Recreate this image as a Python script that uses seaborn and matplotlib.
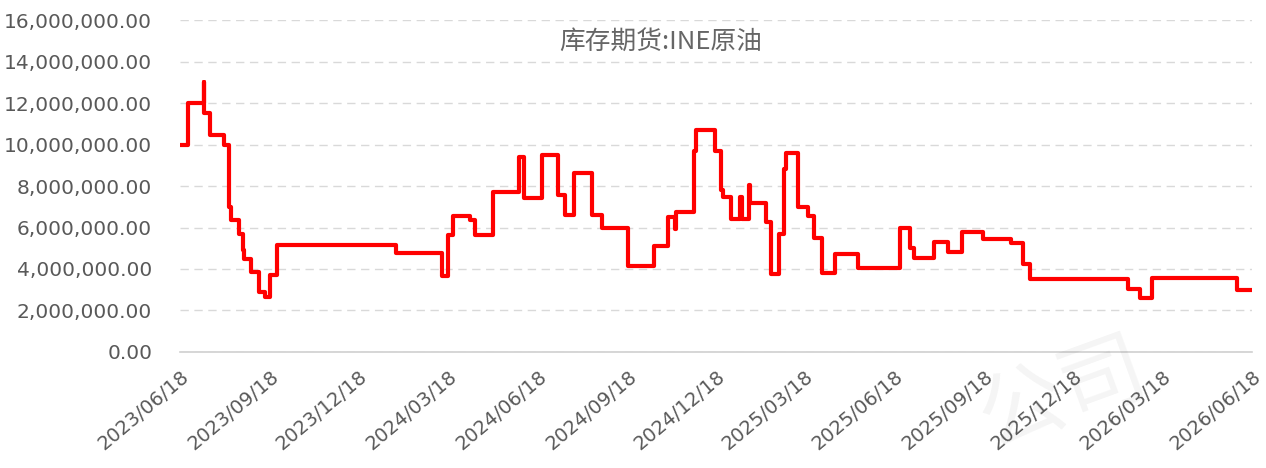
import matplotlib
matplotlib.use("Agg")
import matplotlib.pyplot as plt
import matplotlib.dates as mdates
import matplotlib.ticker as mticker
import seaborn as sns
import pandas as pd

# ---- data (change points of the step series) ----
dates = [
    "2023-06-18", "2023-06-26", "2023-07-12", "2023-07-13", "2023-07-19", "2023-08-02",
    "2023-08-07", "2023-08-09", "2023-08-17", "2023-08-21", "2023-08-22", "2023-08-30",
    "2023-09-07", "2023-09-13", "2023-09-18", "2023-09-25", "2024-01-25", "2024-03-12",
    "2024-03-18", "2024-03-23", "2024-04-09", "2024-04-15", "2024-05-03", "2024-05-30",
    "2024-06-04", "2024-06-22", "2024-07-08", "2024-07-16", "2024-07-25", "2024-08-12",
    "2024-08-22", "2024-09-18", "2024-10-15", "2024-10-29", "2024-11-05", "2024-11-06",
    "2024-11-24", "2024-11-27", "2024-12-16", "2024-12-22", "2024-12-24", "2025-01-01",
    "2025-01-10", "2025-01-13", "2025-01-20", "2025-01-21", "2025-02-06", "2025-02-11",
    "2025-02-19", "2025-02-24", "2025-02-27", "2025-03-11", "2025-03-21", "2025-03-27",
    "2025-04-04", "2025-04-18", "2025-05-11", "2025-06-23", "2025-07-03", "2025-07-07",
    "2025-07-28", "2025-08-11", "2025-08-25", "2025-09-16", "2025-10-15", "2025-10-27",
    "2025-11-03", "2026-02-11", "2026-02-23", "2026-03-08", "2026-06-03", "2026-06-18",
]
values = [
    10.0, 12.0, 13.0, 11.5, 10.45, 10.0,
    7.0, 6.35, 5.7, 4.9, 4.5, 3.85,
    2.9, 2.65, 3.7, 5.15, 4.75, 3.65,
    5.65, 6.55, 6.35, 5.65, 7.7, 9.4,
    7.4, 9.5, 7.55, 6.6, 8.65, 6.6,
    6.0, 4.15, 5.1, 6.5, 5.95, 6.75,
    9.7, 10.7, 9.7, 7.8, 7.45, 6.4,
    7.45, 6.4, 8.05, 7.2, 6.25, 3.75,
    5.7, 8.8, 9.6, 7.0, 6.55, 5.5,
    3.8, 4.7, 4.05, 6.0, 5.0, 4.55,
    5.3, 4.8, 5.8, 5.45, 5.25, 4.25,
    3.5, 3.05, 2.6, 3.55, 3.0, 3.0,
]
values = [v * 1_000_000 for v in values]
title = "库存期货:INE原油"
tick_dates = ["2023-06-18", "2023-09-18", "2023-12-18", "2024-03-18", "2024-06-18",
              "2024-09-18", "2024-12-18", "2025-03-18", "2025-06-18", "2025-09-18",
              "2025-12-18", "2026-03-18", "2026-06-18"]
y_ticks = [0, 2e6, 4e6, 6e6, 8e6, 10e6, 12e6, 14e6, 16e6]

df = pd.DataFrame({"date": pd.to_datetime(dates), "value": values})

sns.set_theme(style="white")
plt.rcParams["font.family"] = ["DejaVu Sans", "Noto Sans CJK SC"]

fig = plt.figure(figsize=(12.66, 4.68), dpi=100)
ax = fig.add_axes([0.1422, 0.248, 0.8468, 0.709])

sns.lineplot(data=df, x="date", y="value", ax=ax, color="#ff0000", linewidth=3.0,
             drawstyle="steps-post", estimator=None, sort=False, zorder=3)

ax.set_xlim(pd.Timestamp("2023-06-18"), pd.Timestamp("2026-06-18"))
ax.set_ylim(0, 16e6)
ax.set_yticks(y_ticks)
ax.yaxis.set_major_formatter(mticker.FuncFormatter(lambda v, p: f"{v:,.2f}"))
ax.set_xticks(pd.to_datetime(tick_dates))
ax.xaxis.set_major_formatter(mdates.DateFormatter("%Y/%m/%d"))

ax.set_xlabel("")
ax.set_ylabel("")
for s in ["top", "right", "left"]:
    ax.spines[s].set_visible(False)
ax.spines["bottom"].set_color("#d0d0d0")
ax.spines["bottom"].set_linewidth(1.2)

ax.grid(axis="y", color="#d9d9d9", linestyle=(0, (6, 4)), linewidth=1.0, zorder=0)
ax.grid(axis="x", visible=False)

ax.tick_params(axis="y", length=0, labelsize=14.5, labelcolor="#595959", pad=20)
ax.tick_params(axis="x", length=7, width=1, color="#d0d0d0", direction="out",
               labelsize=14, labelcolor="#595959", pad=4)
for lab in ax.get_xticklabels():
    lab.set_rotation(40)
    lab.set_ha("right")
    lab.set_rotation_mode("anchor")

ax.text(0.448, 0.934, title, transform=ax.transAxes, ha="center", va="center",
        fontsize=18.5, color="#666666", family=["Noto Sans CJK SC", "DejaVu Sans"])

# faint watermark in the bottom-right corner
fig.text(0.84, 0.005, "公司", fontsize=62, color="#000000", alpha=0.045, rotation=20,
         ha="center", va="bottom", family=["Noto Sans CJK SC"], zorder=0)

fig.savefig("out.png", dpi=100)
